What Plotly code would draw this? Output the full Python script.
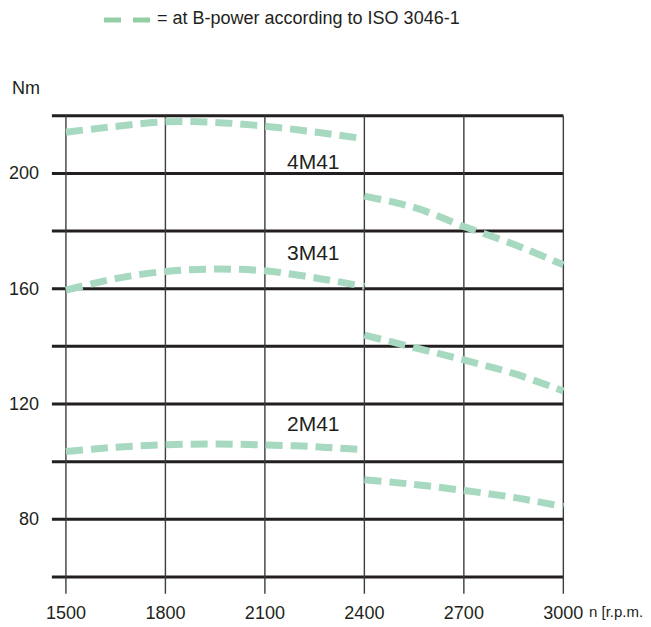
import plotly.graph_objects as go

# ---- data ----
rpm_low = [1500, 1650, 1800, 1950, 2100, 2250, 2400]
rpm_high = [2400, 2550, 2700, 2850, 3000]

m4_low = [214.3, 216.3, 217.9, 217.7, 216.4, 214.4, 212.0]
m4_high = [192.1, 188.2, 181.6, 175.4, 168.3]
m3_low = [159.5, 163.5, 166.0, 166.8, 166.2, 163.8, 160.8]
m3_high = [143.9, 139.6, 135.3, 130.6, 124.5]
m2_low = [103.5, 105.0, 105.9, 106.1, 105.8, 105.2, 104.1]
m2_high = [93.7, 92.1, 90.0, 87.6, 84.4]

engines = ["4M41", "3M41", "2M41"]
label_pos = [(2248, 204.0), (2248, 172.5), (2248, 113.1)]

x_ticks = [1500, 1800, 2100, 2400, 2700, 3000]
y_ticks = [80, 120, 160, 200]
h_grid = [60, 80, 100, 120, 140, 160, 180, 200, 220]

legend_text = "= at B-power according to ISO 3046-1"

# ---- styles ----
FONT = "Liberation Sans, Arial, sans-serif"
TXT = "#231f20"
CURVE = "#a6d9bf"
LEG = "#93cea5"

# plot-area geometry (page pixels, page has an 8px body margin)
OFF = 8
PL, PT, PW, PH = 51, 110, 514, 490


def px_x(px):
    return (px - PL) / PW


def px_y(py):
    return (PT + PH - py) / PH


fig = go.Figure()

series = [(m4_low, m4_high), (m3_low, m3_high), (m2_low, m2_high)]
for (lo, hi), name in zip(series, engines):
    for xs, ys in ((rpm_low, lo), (rpm_high, hi)):
        fig.add_trace(go.Scatter(
            x=xs, y=ys, mode="lines", name=name, showlegend=False,
            line=dict(color=CURVE, width=7, dash="17px,8px", shape="spline", smoothing=1.0),
            hoverinfo="skip"))

shapes = []
for v in h_grid:
    shapes.append(dict(type="line", xref="x", yref="y", x0=1457.7, x1=3000, y0=v, y1=v,
                       line=dict(color=TXT, width=3), layer="below"))
for v in x_ticks:
    shapes.append(dict(type="line", xref="x", yref="y", x0=v, x1=v, y0=54.2, y1=220,
                       line=dict(color="#3d3d3d", width=1.4), layer="below"))
# legend sample dashes
for a, b in ((104, 121), (133, 150)):
    shapes.append(dict(type="line", xref="paper", yref="paper",
                       x0=px_x(a), x1=px_x(b), y0=px_y(20), y1=px_y(20),
                       line=dict(color=LEG, width=5)))

annotations = []
for name, (lx, ly) in zip(engines, label_pos):
    annotations.append(dict(x=lx, y=ly, xref="x", yref="y", text=name, showarrow=False,
                            font=dict(family=FONT, size=21, color=TXT),
                            xanchor="center", yanchor="middle"))
# y tick labels, placed on the y scale
for v in y_ticks:
    annotations.append(dict(x=px_x(41), y=v, xref="paper", yref="y", text=str(v),
                            showarrow=False, xanchor="right", yanchor="middle",
                            font=dict(family=FONT, size=18, color=TXT)))
annotations.append(dict(x=px_x(155), y=px_y(18), xref="paper", yref="paper",
                        text=legend_text, showarrow=False, xanchor="left", yanchor="middle",
                        font=dict(family=FONT, size=18, color=TXT)))
annotations.append(dict(x=px_x(10), y=px_y(88), xref="paper", yref="paper",
                        text="Nm", showarrow=False, xanchor="left", yanchor="middle",
                        font=dict(family=FONT, size=18, color=TXT)))
annotations.append(dict(x=px_x(587), y=px_y(611), xref="paper", yref="paper",
                        text="n [r.p.m.]", showarrow=False, xanchor="left", yanchor="middle",
                        font=dict(family=FONT, size=15, color=TXT)))

fig.update_layout(
    width=651 - OFF, height=627 - OFF,
    margin=dict(l=PL - OFF, r=651 - PL - PW, t=PT - OFF, b=627 - PT - PH, pad=0),
    paper_bgcolor="white", plot_bgcolor="white",
    showlegend=False,
    shapes=shapes, annotations=annotations,
    xaxis=dict(range=[1455, 3005], tickvals=x_ticks, ticktext=[str(v) for v in x_ticks],
               showgrid=False, zeroline=False, showline=False, ticks="", automargin=False,
               tickfont=dict(family=FONT, size=18, color=TXT), ticklabelstandoff=0),
    yaxis=dict(range=[52, 222], tickvals=y_ticks, showticklabels=False,
               showgrid=False, zeroline=False, showline=False, ticks="", automargin=False),
)

fig.write_html("out.html")
